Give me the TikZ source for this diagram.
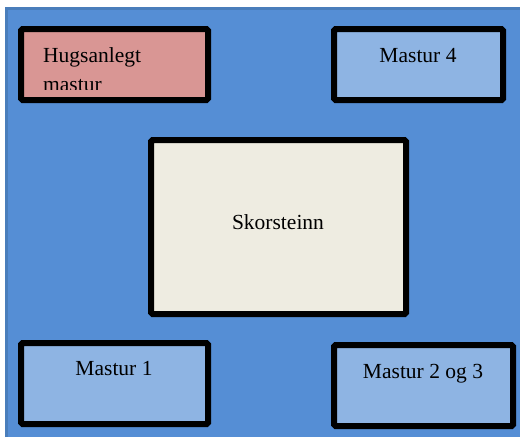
\documentclass[tikz,border=0pt]{standalone}
\usepackage{fontspec}
\setmainfont{Liberation Serif}
\definecolor{bgblue}{HTML}{558ED5}
\definecolor{bgedge}{HTML}{4A7EBB}
\definecolor{boxblue}{HTML}{8EB4E3}
\definecolor{pinkc}{HTML}{D99694}
\definecolor{creamc}{HTML}{EEECE1}
\tikzset{
  bx/.style={draw=black, line width=6pt, rounded corners=1.5pt, inner sep=0pt, rectangle},
  lbl/.style={inner sep=0pt, anchor=base, font=\fontsize{21.5}{25}\selectfont},
}
\begin{document}
\begin{tikzpicture}[x=1pt,y=-1pt]
\useasboundingbox (0,0) rectangle (520,445);
\fill[bgblue] (5,7) rectangle (520,437);
\draw[bgedge, line width=3pt] (6.5,437) -- (6.5,8.5) -- (520,8.5);
% boxes
\node[bx, fill=pinkc, minimum width=187pt, minimum height=71pt] (hug) at (114.5,64.5) {};
\node[bx, fill=boxblue, minimum width=169pt, minimum height=71pt] (m4) at (418.5,64.5) {};
\node[bx, fill=creamc, minimum width=255pt, minimum height=174pt] (sk) at (278.5,227) {};
\node[bx, fill=boxblue, minimum width=187pt, minimum height=81pt] (m1) at (114.5,383.5) {};
\node[bx, fill=boxblue, minimum width=179pt, minimum height=81pt] (m23) at (423.5,385.5) {};
% texts
\node[lbl, anchor=base west] (hugt) at (43,62) {Hugsanlegt};
\begin{scope}
\clip (20,60) rectangle (210,89.5);
\node[lbl, anchor=base west] (hugt2) at (43,91) {mastur};
\end{scope}
\node[lbl] (m4t) at (418,62) {Mastur 4};
\node[lbl] (skt) at (278,229) {Skorsteinn};
\node[lbl] (m1t) at (114,375) {Mastur 1};
\node[lbl] (m23t) at (423,378) {Mastur 2 og 3};
\end{tikzpicture}
\end{document}
